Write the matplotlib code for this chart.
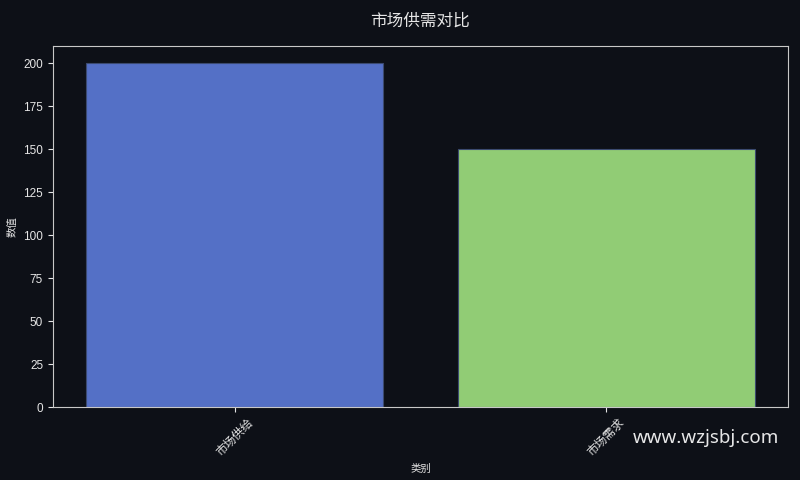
import matplotlib
matplotlib.use("Agg")
import matplotlib.pyplot as plt

plt.rcParams['font.family'] = ['Liberation Sans', 'Noto Sans CJK SC', 'DejaVu Sans']
plt.rcParams['axes.unicode_minus'] = False

categories = ["市场供给", "市场需求"]
values = [200, 150]
colors = ["#5470c6", "#91cc75"]

bg = "#0d1017"
fg = "#e6e6e6"

fig = plt.figure(figsize=(8, 4.8), dpi=100, facecolor=bg)
ax = fig.add_axes([0.066, 0.152, 0.919, 0.752])
ax.set_facecolor(bg)

ax.bar(categories, values, color=colors, width=0.8, edgecolor="#3b4a70", linewidth=0.8)

ax.set_title("市场供需对比", color=fg, fontsize=12, pad=15)
ax.set_xlabel("类别", color=fg, fontsize=7.5)
ax.set_ylabel("数值", color=fg, fontsize=7.5)
ax.tick_params(axis='both', colors=fg, labelsize=8.5)
ax.tick_params(axis='x', labelrotation=45)
for s in ax.spines.values():
    s.set_color("#c8c8c8")

fig.text(0.791, 0.068, "www.wzjsbj.com", color="white", fontsize=13.5, alpha=0.9,
         ha="left", va="bottom", family=['Noto Sans', 'DejaVu Sans'])

fig.savefig("out.png", facecolor=bg)
